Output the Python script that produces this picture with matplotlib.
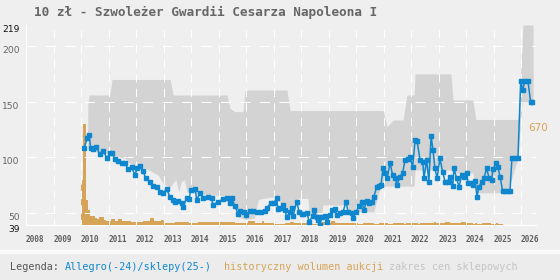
import numpy as np
import matplotlib
matplotlib.use("Agg")
import matplotlib.pyplot as plt

# ---------------- data ----------------
title = "10 zł - Szwoleżer Gwardii Cesarza Napoleona I"

# Allegro / shop price series (decimal year, price zł)
price_t = [2010.11, 2010.23, 2010.30, 2010.35, 2010.45, 2010.55, 2010.69, 2010.80, 2010.95, 2011.05,
           2011.12, 2011.24, 2011.35, 2011.48, 2011.60, 2011.71, 2011.84, 2011.96, 2012.04, 2012.15,
           2012.24, 2012.36, 2012.51, 2012.62, 2012.75, 2012.87, 2012.98, 2013.12, 2013.24, 2013.35,
           2013.42, 2013.53, 2013.66, 2013.71, 2013.84, 2013.93, 2013.99, 2014.15, 2014.21, 2014.33,
           2014.44, 2014.62, 2014.75, 2014.80, 2014.98, 2015.15, 2015.30, 2015.42, 2015.48, 2015.60,
           2015.71, 2015.78, 2015.93, 2016.00, 2016.15, 2016.25, 2016.40, 2016.53, 2016.69, 2016.76,
           2016.90, 2017.02, 2017.12, 2017.16, 2017.24, 2017.33, 2017.42, 2017.48, 2017.60, 2017.66,
           2017.71, 2017.84, 2017.93, 2018.03, 2018.07, 2018.22, 2018.29, 2018.43, 2018.47, 2018.57,
           2018.62, 2018.69, 2018.75, 2018.87, 2018.95, 2019.05, 2019.12, 2019.24, 2019.30, 2019.42,
           2019.53, 2019.64, 2019.71, 2019.84, 2019.89, 2020.00, 2020.11, 2020.21, 2020.29, 2020.39,
           2020.47, 2020.57, 2020.65, 2020.75, 2020.84, 2020.91, 2020.98, 2021.05, 2021.13, 2021.24,
           2021.33, 2021.42, 2021.49, 2021.60, 2021.70, 2021.78, 2021.89, 2021.96, 2022.06, 2022.15,
           2022.22, 2022.33, 2022.43, 2022.47, 2022.57, 2022.65, 2022.73, 2022.80, 2022.87, 2022.95,
           2023.05, 2023.15, 2023.24, 2023.33, 2023.42, 2023.52, 2023.56, 2023.66, 2023.75, 2023.84,
           2023.93, 2024.03, 2024.07, 2024.17, 2024.24, 2024.33, 2024.40, 2024.47, 2024.57, 2024.65,
           2024.75, 2024.84, 2024.93, 2024.98, 2025.09, 2025.16, 2025.24, 2025.33, 2025.42, 2025.51,
           2025.60, 2025.67, 2025.78, 2025.89, 2025.99, 2026.06, 2026.15, 2026.25, 2026.35, 2026.40]
price_v = [108, 117, 120, 108, 107, 109, 103, 106, 99, 104,
           104, 98, 96.6, 95, 95, 89, 91, 84, 90, 92,
           88, 81, 78, 74, 73, 69, 68, 71, 64, 61.5,
           60, 60.6, 59, 55, 63, 62, 70.5, 71, 61.5, 68,
           63, 64, 63, 57, 60, 62, 63, 59, 63, 56,
           49, 51.6, 51, 48, 52, 51.6, 51, 50.4, 52, 54,
           59, 59, 63, 53, 54, 57, 52.5, 46, 51, 54,
           47, 60, 51, 49, 49, 50, 42, 47, 52.5, 46,
           43.5, 39, 46, 47, 42, 48, 52.5, 53, 48, 50,
           51, 60, 51, 50, 45, 51, 56, 60, 52.5, 61,
           59, 60, 64.5, 73, 74, 75, 90, 86, 81, 95,
           84, 81, 75, 82.5, 86, 97.5, 98, 100, 91.5, 115.5,
           114.6, 97.5, 96, 81, 97.5, 78, 119, 106.5, 90, 81,
           99, 87, 78, 78, 82.5, 74, 90, 81, 73, 84,
           82.5, 86, 77, 76.5, 75, 79, 64.5, 73, 78, 81,
           90, 81, 79.5, 89, 95, 91, 82.5, 69.6, 69.6, 69.6,
           69.6, 99, 99, 99.5, 169, 160.5, 169, 169, 150, 150]

# shop price range (decimal year, upper, lower)
band_t = [2010.03, 2010.24, 2010.25, 2010.29, 2010.50, 2011.05, 2011.13, 2011.60, 2011.80, 2012.20,
          2012.50, 2012.80, 2013.00, 2013.24, 2013.35, 2013.45, 2013.55, 2013.65, 2013.75, 2013.85,
          2014.00, 2014.80, 2015.31, 2015.42, 2015.60, 2015.71, 2015.89, 2015.96, 2016.30, 2016.45,
          2016.87, 2017.00, 2017.20, 2017.49, 2017.60, 2017.90, 2018.25, 2018.30, 2018.75, 2018.80,
          2019.70, 2019.75, 2020.65, 2020.85, 2020.98, 2021.13, 2021.35, 2021.71, 2021.85, 2022.11,
          2022.15, 2023.45, 2023.53, 2024.25, 2024.36, 2025.50, 2025.89, 2026.04, 2026.07, 2026.44]
band_hi = [121, 121, 147, 156, 156, 156, 170, 170, 170, 170,
           170, 170, 170, 170, 156, 156, 156, 156, 156, 156,
           156, 156, 156, 144, 141, 141, 141, 160.5, 160.5, 160.5,
           160.5, 160.5, 160.5, 160.5, 142, 142, 142, 142, 142, 142,
           142, 142, 142, 142, 142, 127.5, 133.5, 133.5, 156, 156,
           175, 175, 151.5, 151.5, 134, 134, 134, 200, 219, 219]
band_lo = [118, 118, 108, 108, 105, 103, 102, 99, 94, 92,
           88, 84, 76, 73, 77, 80, 69, 78, 80, 69,
           68, 66, 65, 62, 55, 46, 45, 44, 45, 62,
           64, 64, 60, 55, 51, 63, 63, 48, 48, 57,
           57, 51, 51, 70, 74, 74, 74, 74, 74, 74,
           88.5, 88.5, 86, 86, 68, 68, 99, 150, 150, 150]

# historical auction volume, monthly from Jan 2010
volume = [45, 101, 25, 15, 9, 9, 7, 6, 8, 8, 5, 4,
          4, 6, 6, 4, 6, 6, 4, 4, 4, 4, 3, 3,
          3, 3, 3, 4, 4, 4, 7, 7, 4, 4, 4, 5,
          2, 2, 2, 2, 2, 3, 3, 3, 3, 3, 3, 2,
          2, 2, 2, 3, 3, 3, 3, 3, 3, 3, 3, 3,
          3, 3, 3, 3, 3, 3, 3, 2, 2, 2, 2, 2,
          2, 4, 4, 4, 2, 2, 2, 4, 2, 2, 2, 2,
          1, 1, 1, 1, 1, 2, 2, 3, 3, 2, 2, 2,
          2, 2, 2, 2, 2, 1, 1, 1, 2, 3, 3, 2,
          2, 4, 4, 2, 2, 2, 2, 2, 2, 2, 2, 2,
          2, 1, 1, 2, 2, 2, 2, 2, 1, 1, 2, 2,
          2, 2, 1, 1, 2, 2, 2, 2, 2, 1, 2, 2,
          2, 2, 2, 1, 2, 2, 2, 2, 2, 2, 3, 2,
          2, 2, 2, 3, 3, 2, 2, 2, 2, 2, 3, 3,
          2, 2, 2, 1, 2, 1, 1, 2, 2, 2, 2, 1,
          1, 2, 1, 1]
volume_start = 2010.0
volume_label = "670"

year_ticks = list(range(2008, 2027))
y_ticks = [39, 50, 100, 150, 200, 219]
y_grid = [50, 100, 150, 200]

# ---------------- style ----------------
BG = "#efefef"
BLUE = "#0f87cf"
ORANGE = "#d6a458"
BAND = "#d3d3d3"
plt.rcParams["lines.scale_dashes"] = False

fig = plt.figure(figsize=(5.6, 2.8), dpi=100)
fig.patch.set_facecolor(BG)

W, H = 560.0, 280.0
ax = fig.add_axes([26 / W, 55 / H, 510 / W, 200 / H])
ax.set_facecolor(BG)
ax.set_xlim(2008, 2008 + 510 / 27.5)
ax.set_ylim(39, 219)

# band
ax.fill_between(band_t, band_lo, band_hi, color=BAND, lw=0, zorder=1)

for s in ["top", "right"]:
    ax.spines[s].set_visible(False)
for s in ["left", "bottom"]:
    ax.spines[s].set_color("white")
    ax.spines[s].set_linewidth(0.9)

# y ticks
ax.set_yticks(y_ticks)
ax.set_yticklabels([str(v) for v in y_ticks], fontsize=6.6, family="DejaVu Sans", va="top")
for lab, v in zip(ax.get_yticklabels(), y_ticks):
    lab.set_color("#111111" if v in (39, 219) else "#666666")
ax.tick_params(axis="y", length=0, pad=4.5)

# x ticks (labels offset right of the year line)
ax.set_xticks([y + 0.33 for y in year_ticks])
ax.set_xticklabels([str(y) for y in year_ticks], fontsize=5.6, family="DejaVu Sans Mono",
                   fontweight="bold", color="#5f5f5f")
ax.tick_params(axis="x", length=0, pad=7.5)

# volume bars
ax2 = ax.twinx()
ax2.set_ylim(0, 200)
ax2.set_axis_off()
vol_x = [volume_start + i / 12 for i in range(len(volume))]
ax2.bar(vol_x, volume, width=1 / 12, align="edge", color=ORANGE, lw=0, zorder=1)

# price line + grid on top layer
ax3 = ax.twinx()
ax3.set_ylim(39, 219)
ax3.set_axis_off()
for y in y_grid:
    ax3.axhline(y, color="white", lw=0.72, ls=(0, (7.2, 6.8)), snap=True, zorder=1)
for yr in year_ticks[1:]:
    ax3.axvline(yr, color="white", lw=0.72, ls=(2, (6.0, 4.5)), snap=True, zorder=1)
ax3.plot(price_t, price_v, color=BLUE, lw=1.1, marker="s", ms=3.0, mec=BLUE, mfc=BLUE, zorder=3)

# 670 label
ax3.text(2026.62, 126, volume_label, color=ORANGE, fontsize=7.5, ha="center", va="center",
         family="DejaVu Sans")

# title
fig.text(34 / W, 1 - 12 / H, title, fontsize=9.2, family="DejaVu Sans Mono", fontweight="bold",
         color="#666666", ha="left", va="center")

# legend strip
fig.patches.append(matplotlib.patches.Rectangle((0, 0), 1, 27 / H, transform=fig.transFigure,
                                                color="#ececec", zorder=0))
fig.patches.append(matplotlib.patches.Rectangle((0, 27 / H), 1, 3 / H, transform=fig.transFigure,
                                                color="#fafafa", zorder=0))
ly = 1 - 267 / H
fs = 7.3
fig.text(10 / W, ly, "Legenda:", fontsize=fs, family="DejaVu Sans Mono", color="#555555", va="center")
fig.text(65 / W, ly, "Allegro(-24)/sklepy(25-)", fontsize=fs, family="DejaVu Sans Mono", color=BLUE, va="center")
fig.text(224 / W, ly, "historyczny wolumen aukcji", fontsize=fs, family="DejaVu Sans Mono", color=ORANGE, va="center")
fig.text(389 / W, ly, "zakres cen sklepowych", fontsize=fs, family="DejaVu Sans Mono", color="#c4c4c4", va="center")

fig.savefig("out.png", dpi=100, facecolor=BG)
